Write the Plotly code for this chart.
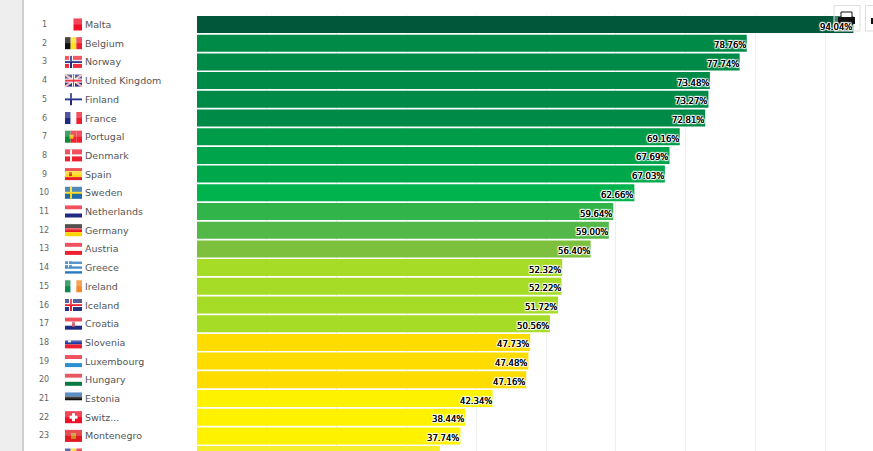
import plotly.graph_objects as go

# ---- data -------------------------------------------------------------------
ranks = list(range(1, 25))
countries = ["Malta", "Belgium", "Norway", "United Kingdom", "Finland", "France", "Portugal",
             "Denmark", "Spain", "Sweden", "Netherlands", "Germany", "Austria", "Greece",
             "Ireland", "Iceland", "Croatia", "Slovenia", "Luxembourg", "Hungary", "Estonia",
             "Switz...", "Montenegro", "Romania"]
values = [94.04, 78.76, 77.74, 73.48, 73.27, 72.81, 69.16, 67.69, 67.03, 62.66, 59.64, 59.00,
          56.40, 52.32, 52.22, 51.72, 50.56, 47.73, 47.48, 47.16, 42.34, 38.44, 37.74, 34.80]
bar_colors = ["#00573a", "#008a47", "#008a47", "#008a47", "#008a47", "#008a47", "#009c49",
              "#00a44b", "#00a84c", "#00b34c", "#31b44a", "#53b848", "#7dc03d", "#a6dc26",
              "#a6dc26", "#a6dc26", "#a6dc26", "#ffdc00", "#ffdc00", "#ffdc00", "#fff200",
              "#fff200", "#fff200", "#f5ee2a"]
grid_ticks = [10, 20, 30, 40, 50, 60, 70, 80, 90]

# flags: stripes direction + colours, then optional cross (outer, inner) or emblem
STRIPES = {
    "Malta": ("v", ["#ffffff", "#f0102a"]),
    "Belgium": ("v", ["#111111", "#ffe01a", "#ee2030"]),
    "Norway": ("h", ["#ef2b3a"]),
    "United Kingdom": ("h", ["#26357f"]),
    "Finland": ("h", ["#ffffff"]),
    "France": ("v", ["#1f2a80", "#ffffff", "#ee2030"]),
    "Portugal": ("v", ["#0a8a3a", "#ee2030", "#ee2030"]),
    "Denmark": ("h", ["#ee2030"]),
    "Spain": ("h", ["#e8202a", "#ffd814", "#ffd814", "#e8202a"]),
    "Sweden": ("h", ["#1f6aa8"]),
    "Netherlands": ("h", ["#ee2030", "#ffffff", "#1f2a80"]),
    "Germany": ("h", ["#222222", "#e81c24", "#ffd400"]),
    "Austria": ("h", ["#ee2030", "#ffffff", "#ee2030"]),
    "Greece": ("h", ["#2a78c0", "#ffffff", "#2a78c0", "#ffffff", "#2a78c0"]),
    "Ireland": ("v", ["#0a8a4a", "#ffffff", "#f58a2a"]),
    "Iceland": ("h", ["#26357f"]),
    "Croatia": ("h", ["#ee2030", "#ffffff", "#1f2a80"]),
    "Slovenia": ("h", ["#ffffff", "#1f3aa0", "#ee2030"]),
    "Luxembourg": ("h", ["#ee2030", "#ffffff", "#2a90d0"]),
    "Hungary": ("h", ["#e02a36", "#ffffff", "#0a7a40"]),
    "Estonia": ("h", ["#2a70b8", "#111111", "#ffffff"]),
    "Switz...": ("h", ["#f0102a"]),
    "Montenegro": ("h", ["#e01a20"]),
    "Romania": ("v", ["#2a3a9a", "#ffd814", "#ee2030"]),
}
CROSSES = {
    "Norway": ("#ffffff", "#1f2a80"),
    "Finland": (None, "#1f2a80"),
    "Denmark": (None, "#ffffff"),
    "Sweden": (None, "#ffd814"),
    "Iceland": ("#ffffff", "#ee2030"),
}

# ---- figure -----------------------------------------------------------------
PX = 6.98            # pixels per percentage point
ROW = 18.7           # row pitch
TOP = 15
x_range = [-197 / PX, (873 - 197) / PX]
y_range = [1 + (451 - 24.5) / ROW, 1 + (TOP - 24.5) / ROW]
HALO = ("0 0 0.6px #000, -1px 0 1px #fff, 1px 0 1px #fff, 0 -1px 1px #fff, 0 1px 1px #fff, "
        "-1px -1px 1px #fff, 1px 1px 1px #fff, -1px 1px 1px #fff, 1px -1px 1px #fff")

fig = go.Figure(go.Bar(x=values, y=ranks, orientation="h", width=0.91,
                       marker=dict(color=bar_colors, line=dict(width=0)), hoverinfo="skip"))

shapes = [dict(type="rect", xref="paper", yref="paper", x0=0, x1=22 / 873, y0=0, y1=1 + TOP / 436,
               fillcolor="#eeeeee", line_width=0, layer="below"),
          dict(type="rect", xref="paper", yref="paper", x0=22 / 873, x1=24 / 873, y0=0, y1=1 + TOP / 436,
               fillcolor="#cfcfcf", line_width=0, layer="below")]


def px_rect(rank, x0, x1, y0, y1, color, **kw):
    # offsets in pixels: x from bar origin, y up from row centre
    return dict(type="rect", xref="x", yref="y", xsizemode="pixel", ysizemode="pixel",
                xanchor=0, yanchor=rank, x0=x0, x1=x1, y0=y0, y1=y1,
                fillcolor=color, line_width=0, **kw)


FX0, FX1, FH = -132, -115, 6
for rank, name in zip(ranks, countries):
    way, cols = STRIPES[name]
    n = len(cols)
    for i, c in enumerate(cols):
        if way == "v":
            w = (FX1 - FX0) / n
            shapes.append(px_rect(rank, FX0 + i * w, FX0 + (i + 1) * w, -FH, FH, c))
        else:
            h = 2 * FH / n
            shapes.append(px_rect(rank, FX0, FX1, FH - (i + 1) * h, FH - i * h, c))
    if name in CROSSES:
        outer, inner = CROSSES[name]
        if outer:
            shapes.append(px_rect(rank, FX0 + 4, FX0 + 8, -FH, FH, outer))
            shapes.append(px_rect(rank, FX0, FX1, -2, 2, outer))
        shapes.append(px_rect(rank, FX0 + 5, FX0 + 7, -FH, FH, inner))
        shapes.append(px_rect(rank, FX0, FX1, -1, 1, inner))
    if name == "United Kingdom":
        for a, b in [(-FH, FH), (FH, -FH)]:
            shapes.append(dict(type="line", xref="x", yref="y", xsizemode="pixel", ysizemode="pixel",
                               xanchor=0, yanchor=rank, x0=FX0, x1=FX1, y0=a, y1=b,
                               line=dict(color="#f2b8bc", width=2)))
        shapes.append(px_rect(rank, FX0 + 7, FX0 + 10, -FH, FH, "#ffffff"))
        shapes.append(px_rect(rank, FX0, FX1, -2, 2, "#ffffff"))
        shapes.append(px_rect(rank, FX0 + 8, FX0 + 9, -FH, FH, "#ee2030"))
        shapes.append(px_rect(rank, FX0, FX1, -1, 1, "#ee2030"))
    if name == "Switz...":
        shapes.append(px_rect(rank, FX0 + 7, FX0 + 10, -4, 4, "#ffffff"))
        shapes.append(px_rect(rank, FX0 + 4.5, FX0 + 12.5, -1.5, 1.5, "#ffffff"))
    if name == "Montenegro":
        shapes.append(px_rect(rank, FX0 + 6, FX0 + 11, -3, 3, "#c89020"))
    if name == "Portugal":
        shapes.append(px_rect(rank, FX0 + 4.5, FX0 + 8.5, -2, 2, "#e8c020"))
    if name == "Spain":
        shapes.append(px_rect(rank, FX0 + 4, FX0 + 7, -2, 2, "#c84020"))
    if name == "Croatia":
        shapes.append(px_rect(rank, FX0 + 7, FX0 + 10, -3, 2, "#d06070"))
    if name == "Slovenia":
        shapes.append(px_rect(rank, FX0 + 3, FX0 + 6, 0, 3, "#dfe4f4"))
    if name == "Greece":
        shapes.append(px_rect(rank, FX0, FX0 + 7, 0, FH, "#2a78c0"))
        shapes.append(px_rect(rank, FX0 + 3, FX0 + 4, 0, FH, "#ffffff"))
        shapes.append(px_rect(rank, FX0, FX0 + 7, 2.5, 3.5, "#ffffff"))
    # gloss over the top half + thin frame
    shapes.append(px_rect(rank, FX0, FX1, 0, FH, "rgba(255,255,255,0.22)"))
    shapes.append(dict(px_rect(rank, FX0, FX1, -FH, FH, "rgba(0,0,0,0)"),
                       line=dict(color="rgba(120,120,120,0.5)", width=0.7)))

# print buttons, top right corner
W, H = 873.0, 436.0


def page_rect(x0, x1, y0, y1, fill, line=None):
    return dict(type="rect", xref="paper", yref="paper", x0=x0 / W, x1=x1 / W,
                y0=(451 - y1) / H, y1=(451 - y0) / H, fillcolor=fill,
                line=dict(color=line, width=1) if line else dict(width=0))


shapes += [page_rect(834, 860, 5.5, 31, "rgba(255,255,255,0.25)", "#dddddd"),
           page_rect(865.5, 880, 5.5, 31, "rgba(255,255,255,0.25)", "#dddddd"),
           page_rect(841, 852, 12, 18, "#ffffff", "#111111"),
           page_rect(838, 855, 17, 24, "#111111"),
           page_rect(841, 852, 22, 28, "#c8c8c8", "#111111"),
           page_rect(871, 873, 18, 24, "#111111")]

annotations = []
for rank, name, val in zip(ranks, countries, values):
    annotations.append(dict(x=-153 / PX, y=rank, text=str(rank), showarrow=False, xanchor="center",
                            font=dict(family="DejaVu Sans", size=8, color="#666666")))
    annotations.append(dict(x=-114 / PX, y=rank, text=name, showarrow=False, xanchor="left",
                            font=dict(family="DejaVu Sans", size=9.5, color="#555555")))
    annotations.append(dict(x=val, y=rank, text=f"{val:.2f}%", showarrow=False, xanchor="right",
                            xshift=1, yshift=-2,
                            font=dict(family="DejaVu Sans", size=8.5, color="#000000", shadow=HALO)))

fig.update_layout(width=873, height=451, margin=dict(l=0, r=0, t=TOP, b=0),
                  paper_bgcolor="#ffffff", plot_bgcolor="#ffffff", showlegend=False,
                  shapes=shapes, annotations=annotations)
fig.update_xaxes(range=x_range, tickvals=grid_ticks, showticklabels=False, showgrid=True,
                 gridcolor="#eeeeee", gridwidth=1, zeroline=False, ticks="", fixedrange=True)
fig.update_yaxes(range=y_range, showticklabels=False, showgrid=False, zeroline=False, ticks="",
                 fixedrange=True)

fig.write_html("out.html", config=dict(displayModeBar=False),
               post_script="document.body.style.margin='0';")
